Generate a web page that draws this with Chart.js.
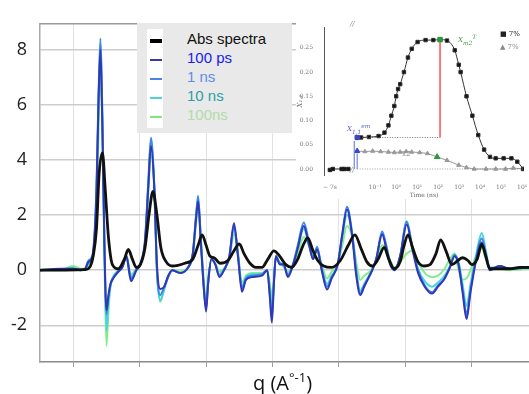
<!DOCTYPE html>
<html>
<head>
<meta charset="utf-8">
<script src="https://cdn.jsdelivr.net/npm/chart.js@4.4.1/dist/chart.umd.min.js"></script>
<style>
  body { margin: 0; background: #fff; font-family: "Liberation Sans", Arial, sans-serif; }
  #wrap { position: relative; width: 529px; height: 394px; overflow: hidden; }
  #mainBox { position: absolute; left: 0; top: 0; width: 529px; height: 394px; }
  .legend { position: absolute; left: 137px; top: 23px; width: 155px; height: 110px; background: #e9e9e9; }
  .legend .strip { position: absolute; left: 10px; top: 6px; width: 16px; height: 99px; background: #fff; }
  .legend .sw { position: absolute; left: 13px; width: 12px; }
  .legend .txt { position: absolute; left: 50px; font-size: 15px; line-height: 16px; white-space: nowrap; }
  #insetBox { position: absolute; left: 296px; top: 17px; width: 233px; height: 182px; background: #fff; }
  .note { position: absolute; font-size: 7px; line-height: 8px; white-space: nowrap; font-family: "DejaVu Serif", serif; }
  #xtitle { position: absolute; left: 253px; top: 371px; font-family: "Open Sans", sans-serif; font-size: 20px; line-height: 24px; color: #111; white-space: nowrap; }
  #xtitle sup { font-size: 13px; vertical-align: 8px; line-height: 0; }
</style>
</head>
<body>
<div id="wrap">
  <div id="mainBox"><canvas id="mainChart"></canvas></div>

  <div class="legend">
    <div class="strip"></div>
    <div class="sw" style="top:16px;height:4px;background:#000"></div>
    <div class="sw" style="top:36px;height:2px;background:#3a3a9a"></div>
    <div class="sw" style="top:55px;height:2px;background:#4a84e8"></div>
    <div class="sw" style="top:74px;height:2px;background:#4fd4d4"></div>
    <div class="sw" style="top:93px;height:2px;background:#7ee87e"></div>
    <div class="txt" style="top:8px;color:#111">Abs spectra</div>
    <div class="txt" style="top:27px;color:#1a1af5">100 ps</div>
    <div class="txt" style="top:46px;color:#5b8ee6">1 ns</div>
    <div class="txt" style="top:65px;color:#2a9fa6">10 ns</div>
    <div class="txt" style="top:84px;color:#b0dca8">100ns</div>
  </div>

  <div id="insetBox"><canvas id="insetChart"></canvas></div>
  <div class="note" style="left:347px;top:122px;color:#4a5ad0;font-style:italic">X<sub>1,1</sub><sup>em</sup></div>
  <div class="note" style="left:458px;top:33px;color:#3a9a3a;font-style:italic">X<sub>m2</sub><sup>T</sup></div>
  <div class="note" style="left:500px;top:30px;color:#222">&#9632; 7%</div>
  <div class="note" style="left:500px;top:43px;color:#888">&#9650; 7%</div>
  <div class="note" style="left:402px;top:150px;color:#888">x2</div>
  <div class="note" style="left:350px;top:20px;color:#888;font-style:italic">//</div>
  <div class="note" style="left:350px;top:166px;color:#888;font-style:italic">//</div>

  <div id="xtitle">q (A<sup>°-1</sup>)</div>
</div>

<script>
// main spectra: q positions (arbitrary grid, 1 unit per gridline)
const qBlack = [0.50,1.18,1.26,1.30,1.35,1.39,1.44,1.48,1.53,1.59,1.68,1.77,1.83,1.89,1.95,2.01,2.08,2.14,2.20,2.26,2.32,2.40,2.49,2.68,2.80,2.88,2.94,3.00,3.06,3.12,3.21,3.33,3.42,3.50,3.57,3.66,3.75,3.84,3.93,4.02,4.11,4.20,4.29,4.38,4.46,4.53,4.61,4.68,4.77,4.89,5.02,5.14,5.24,5.33,5.42,5.50,5.59,5.68,5.75,5.83,5.92,5.98,6.04,6.11,6.19,6.28,6.37,6.46,6.53,6.61,6.70,6.79,6.86,6.94,7.00,7.08,7.15,7.21,7.27,7.42,7.57,7.72,7.86];
const absSpectra = [0,0.02,0.15,0.5,1.5,3.5,4.25,3.0,1.2,0.2,0.05,0.4,0.75,0.4,0.1,0.2,0.8,2.0,2.85,2.0,0.8,0.3,0.15,0.25,0.4,0.9,1.28,0.9,0.5,0.45,0.25,0.35,0.7,0.95,0.6,0.25,0.1,0.1,0.4,0.7,0.5,0.2,0.1,0.4,0.9,1.17,0.7,0.35,0.15,0.1,0.35,0.9,1.28,0.8,0.3,0.15,0.4,0.82,0.4,0.05,0.3,0.9,1.28,0.8,0.3,0.15,0.2,0.6,1.1,0.7,0.2,0.35,0.45,0.35,0.2,0.4,0.93,0.5,0.05,0.05,0.05,0.1,0.1];

const qDiff = [0.50,0.80,1.00,1.11,1.18,1.23,1.29,1.35,1.38,1.41,1.44,1.47,1.50,1.53,1.56,1.60,1.68,1.74,1.80,1.87,1.95,2.01,2.08,2.13,2.17,2.22,2.26,2.31,2.37,2.43,2.49,2.61,2.73,2.80,2.85,2.88,2.92,2.97,3.00,3.03,3.08,3.14,3.20,3.27,3.35,3.42,3.48,3.54,3.60,3.69,3.84,3.92,3.96,3.99,4.02,4.05,4.11,4.17,4.23,4.31,4.38,4.47,4.55,4.61,4.67,4.74,4.82,4.89,4.98,5.05,5.12,5.20,5.26,5.32,5.38,5.44,5.50,5.56,5.65,5.71,5.77,5.84,5.92,6.02,6.10,6.19,6.29,6.40,6.49,6.59,6.67,6.74,6.80,6.86,6.92,6.98,7.06,7.15,7.21,7.27,7.42,7.57,7.86];

const diff100ps = [0,0.05,0.05,0,0.05,0.3,0.5,2.8,6.0,8.0,
  5.0,0.8,-1.45,-0.9,-0.5,-0.3,-0.05,0.1,0.5,-0.4,
  0,0.2,1.0,3.0,4.5,3.0,0.2,-0.68,-0.6,-0.2,
  0,-0.1,0.1,0.6,1.9,2.5,1.0,-0.8,-1.5,-0.5,
  0.4,0.2,-0.25,0,0.5,1.7,0.5,-0.78,-0.35,-0.25,
  -0.2,0,-1.0,-1.9,-0.5,0.5,0.2,0.2,-0.25,0.2,
  0.8,1.6,0.9,0.4,0.75,0,-0.7,-0.3,0.2,1.3,
  2.2,1.2,-0.2,-0.9,-0.6,-0.3,0,0.4,1.3,0.8,
  0.2,0,0.5,1.65,0.8,-0.1,-0.6,-0.85,-0.6,-0.3,
  0.1,0.5,0.2,-0.8,-1.77,-0.8,0.3,1.0,0.5,0,
  0.15,0.05,0.1];
const diff1ns = [0,0.03,0.05,0,0.05,0.35,0.55,3.0,6.3,8.4,
  5.3,1.0,-1.6,-1.0,-0.55,-0.3,-0.05,0.1,0.5,-0.3,
  0,0.25,1.1,3.2,4.8,3.0,0,-0.9,-0.6,-0.25,
  0,-0.1,0.1,0.6,2.0,2.7,1.1,-0.8,-1.4,-0.5,
  0.4,0.2,-0.2,0,0.5,1.6,0.5,-0.65,-0.3,-0.2,
  -0.15,0,-0.9,-1.7,-0.5,0.5,0.25,0.2,-0.2,0.25,
  0.9,1.73,1.0,0.4,0.85,0.05,-0.6,-0.25,0.2,1.3,
  2.3,1.3,-0.1,-0.85,-0.55,-0.3,0,0.4,1.4,0.9,
  0.25,0,0.5,1.75,0.9,0,-0.55,-0.8,-0.55,-0.3,
  0.1,0.55,0.2,-0.7,-1.6,-0.7,0.4,1.15,0.6,0.05,
  0.15,0.05,0.1];
const diff10ns = [0,0.02,0.08,0.02,0.05,0.25,0.45,2.6,6.0,8.2,
  5.5,0.8,-2.2,-1.2,-0.55,-0.25,0,0.15,0.45,-0.25,
  0.05,0.2,1.0,3.1,4.7,3.1,0,-1.1,-0.7,-0.25,
  0,-0.1,0.1,0.6,2.0,2.6,1.2,-0.7,-1.3,-0.4,
  0.4,0.2,-0.15,0.05,0.45,1.55,0.6,-0.6,-0.25,-0.15,
  -0.15,0,-0.7,-1.4,-0.4,0.5,0.25,0.15,-0.15,0.2,
  0.8,1.5,0.9,0.5,0.8,0.1,-0.5,-0.2,0.2,1.2,
  2.0,1.3,0,-0.75,-0.5,-0.25,0,0.35,1.3,0.9,
  0.3,0.05,0.5,1.77,0.9,0.05,-0.4,-0.6,-0.45,-0.2,
  0.15,0.57,0.3,-0.5,-1.3,-0.5,0.5,1.35,0.7,0.1,
  0.1,0.05,0.1];
const diff100ns = [0,0,0.15,0.05,0.05,0.2,0.4,2.2,5.0,7.0,
  5.2,0.5,-2.75,-1.5,-0.6,-0.25,0,0.15,0.55,-0.15,
  0.05,0.2,0.9,2.8,4.2,2.9,0,-1.15,-0.65,-0.2,
  0,-0.05,0.1,0.5,1.7,2.3,1.2,-0.5,-1.2,-0.3,
  0.35,0.25,-0.05,0.05,0.4,1.3,0.6,-0.45,-0.2,-0.1,
  -0.1,0,-0.5,-1.0,-0.3,0.4,0.3,0.1,-0.05,0.15,
  0.6,1.2,0.9,0.6,0.65,0.2,-0.3,-0.05,0.2,0.9,
  1.6,1.2,0.3,-0.35,-0.2,-0.1,0.05,0.3,0.9,0.8,
  0.35,0.1,0.3,0.6,0.7,0.3,-0.1,-0.25,-0.2,0.05,
  0.4,0.6,0,-0.35,-0.3,0,0.5,0.8,0.4,0.05,
  0.05,0,0.05];

// inset: log10(time) positions and X values
const insetEarlyT = [-3.16,-3.02,-2.60,-2.47,-2.28];
const insetEarlyX = [-0.002,0,0,0,0];
const insetSqT = [-1.86,-1.67,-1.30,-0.84,-0.56,-0.37,-0.23,-0.09,0,0.09,0.19,0.37,0.56,0.74,1.02,1.40,1.77,2.09,2.42,2.79,2.98,3.07,3.35,3.63,3.91,4.19,4.47,4.74,5.12,5.49,5.77,6.05];
const insetSqX = [0.065,0.065,0.066,0.068,0.075,0.09,0.11,0.13,0.15,0.165,0.175,0.20,0.23,0.248,0.262,0.266,0.266,0.267,0.265,0.245,0.215,0.20,0.15,0.11,0.07,0.04,0.025,0.022,0.022,0.022,0.015,0.0];
const insetTriT = [-1.86,-1.49,-1.12,-0.74,-0.37,-0.09,0.19,0.47,0.74,1.12,1.49,1.95,2.42,2.98,3.35,3.72,4.28,4.74,5.21,5.58,6.05];
const insetTriX = [0.037,0.036,0.037,0.036,0.035,0.034,0.035,0.036,0.035,0.034,0.032,0.025,0.018,0.008,0.003,0,0,0,0,0.002,0];
const insetTickVals = [-3.16,-1,0,1,2,3,4,5,6];
const insetTickLabels = ["\u2212 7s","10\u207B\u00B9","10\u2070","10\u00B9","10\u00B2","10\u00B3","10\u2074","10\u2075","10\u2076"];

const pts = (xs, ys) => xs.map((x, i) => ({ x: x, y: ys[i] }));

const frameTop = {
  id: "frameTop",
  afterDraw(chart) {
    const { ctx, chartArea: a } = chart;
    ctx.save();
    ctx.strokeStyle = "#9a9a9a";
    ctx.lineWidth = 1.5;
    ctx.beginPath();
    ctx.moveTo(a.left, a.top);
    ctx.lineTo(a.right, a.top);
    ctx.stroke();
    ctx.restore();
  }
};

function line(label, xs, ys, color, width) {
  return {
    label: label,
    data: pts(xs, ys),
    borderColor: color,
    backgroundColor: color,
    borderWidth: width,
    pointRadius: 0,
    fill: false,
    cubicInterpolationMode: "monotone"
  };
}

new Chart(document.getElementById("mainChart"), {
  type: "line",
  data: {
    datasets: [
      line("Abs spectra", qBlack, absSpectra, "#111111", 2.8),
      line("100 ps", qDiff, diff100ps, "#3038b8", 2),
      line("1 ns", qDiff, diff1ns, "#3e86ea", 2),
      line("10 ns", qDiff, diff10ns, "#48d4dc", 2),
      line("100ns", qDiff, diff100ns, "#84ec8a", 2)
    ]
  },
  options: {
    responsive: true,
    maintainAspectRatio: false,
    animation: false,
    layout: { padding: { top: 16, left: 0, right: 0, bottom: 0 } },
    plugins: { legend: { display: false }, tooltip: { enabled: false } },
    scales: {
      x: {
        type: "linear", min: 0.5, max: 7.86,
        afterFit(s) { s.height = 32; },
        ticks: { display: false, stepSize: 1, includeBounds: false },
        grid: { color: "#e2e2e2", lineWidth: 1, tickLength: 5, tickColor: "#9a9a9a" },
        border: { color: "#8a8a8a", width: 1.5 }
      },
      y: {
        min: -3.33, max: 8.93,
        afterFit(s) { s.width = 40; },
        ticks: { stepSize: 2, includeBounds: false, padding: 13, color: "#222", font: { family: "Open Sans", size: 18 } },
        grid: { color: "#cdcdcd", lineWidth: 1.5, drawTicks: false },
        border: { color: "#a8a8a8", width: 1.5 }
      }
    }
  },
  plugins: [frameTop]
});

new Chart(document.getElementById("insetChart"), {
  type: "scatter",
  data: {
    datasets: [
      { data: [{ x: -2.0, y: 0 }, { x: -2.0, y: 0.058 }, { x: null, y: null }, { x: -1.86, y: 0 }, { x: -1.86, y: 0.032 }],
        showLine: true, spanGaps: false, borderColor: "#5a6ee0", borderWidth: 1, pointRadius: 0 },
      { data: [{ x: 2.09, y: 0.065 }, { x: 2.09, y: 0.262 }], showLine: true, borderColor: "#ff5050", borderWidth: 1.5, pointRadius: 0 },
      { data: [{ x: -1.86, y: 0.065 }, { x: 2.09, y: 0.065 }], showLine: true, borderColor: "#555", borderWidth: 0.8, borderDash: [1, 1.5], pointRadius: 0 },
      { data: [{ x: -1.86, y: 0 }, { x: 6.05, y: 0 }], showLine: true, borderColor: "#888", borderWidth: 0.8, borderDash: [1, 1.5], pointRadius: 0 },
      { data: [{ x: -1.86, y: 0.065 }, { x: -1.86, y: 0.037 }], pointStyle: ["rect", "triangle"], pointRadius: 3, backgroundColor: "#3a48c8", borderColor: "#3a48c8", showLine: false },
      { data: [{ x: 2.09, y: 0.267 }, { x: 1.95, y: 0.025 }], pointStyle: ["rect", "triangle"], pointRadius: 3.2, backgroundColor: "#2a9a3a", borderColor: "#2a9a3a", showLine: false },
      { data: pts(insetEarlyT, insetEarlyX), showLine: true, borderColor: "#222", borderWidth: 1, pointStyle: "rect", pointRadius: 2.4, backgroundColor: "#111" },
      { data: pts(insetSqT, insetSqX), showLine: true, cubicInterpolationMode: "monotone", borderWidth: 1, pointStyle: "rect", pointRadius: 2.4, backgroundColor: "#111", borderColor: "#333" },
      { data: pts(insetTriT, insetTriX), showLine: true, borderColor: "#999", borderWidth: 1, pointStyle: "triangle", pointRadius: 2.4, backgroundColor: "#999" }
    ]
  },
  options: {
    responsive: true,
    maintainAspectRatio: false,
    animation: false,
    layout: { padding: { top: 10, left: 0, right: 0, bottom: 0 } },
    plugins: { legend: { display: false }, tooltip: { enabled: false } },
    scales: {
      x: {
        type: "linear", min: -3.44, max: 6.09,
        afterFit(s) { s.height = 24; },
        afterBuildTicks(s) { s.ticks = insetTickVals.map(v => ({ value: v })); },
        ticks: { autoSkip: false, maxRotation: 0, padding: 1, color: "#777", font: { size: 6, family: "DejaVu Serif" },
          callback: v => insetTickLabels[insetTickVals.indexOf(v)] },
        grid: { display: false },
        border: { display: false },
        title: { display: true, text: "Time (ns)", color: "#666", font: { size: 6, family: "DejaVu Serif" }, padding: 0 }
      },
      y: {
        min: -0.0124, max: 0.293,
        afterFit(s) { s.width = 28; },
        ticks: { stepSize: 0.05, includeBounds: false, padding: 3, color: "#777", font: { size: 6, family: "DejaVu Serif" },
          callback: v => v.toFixed(2) },
        grid: { display: false },
        border: { color: "#555", width: 1 },
        title: { display: true, text: "X\u2081,\u2081", color: "#777", font: { size: 7, family: "DejaVu Serif", style: "italic" }, padding: 0 }
      }
    }
  }
});
</script>
</body>
</html>
